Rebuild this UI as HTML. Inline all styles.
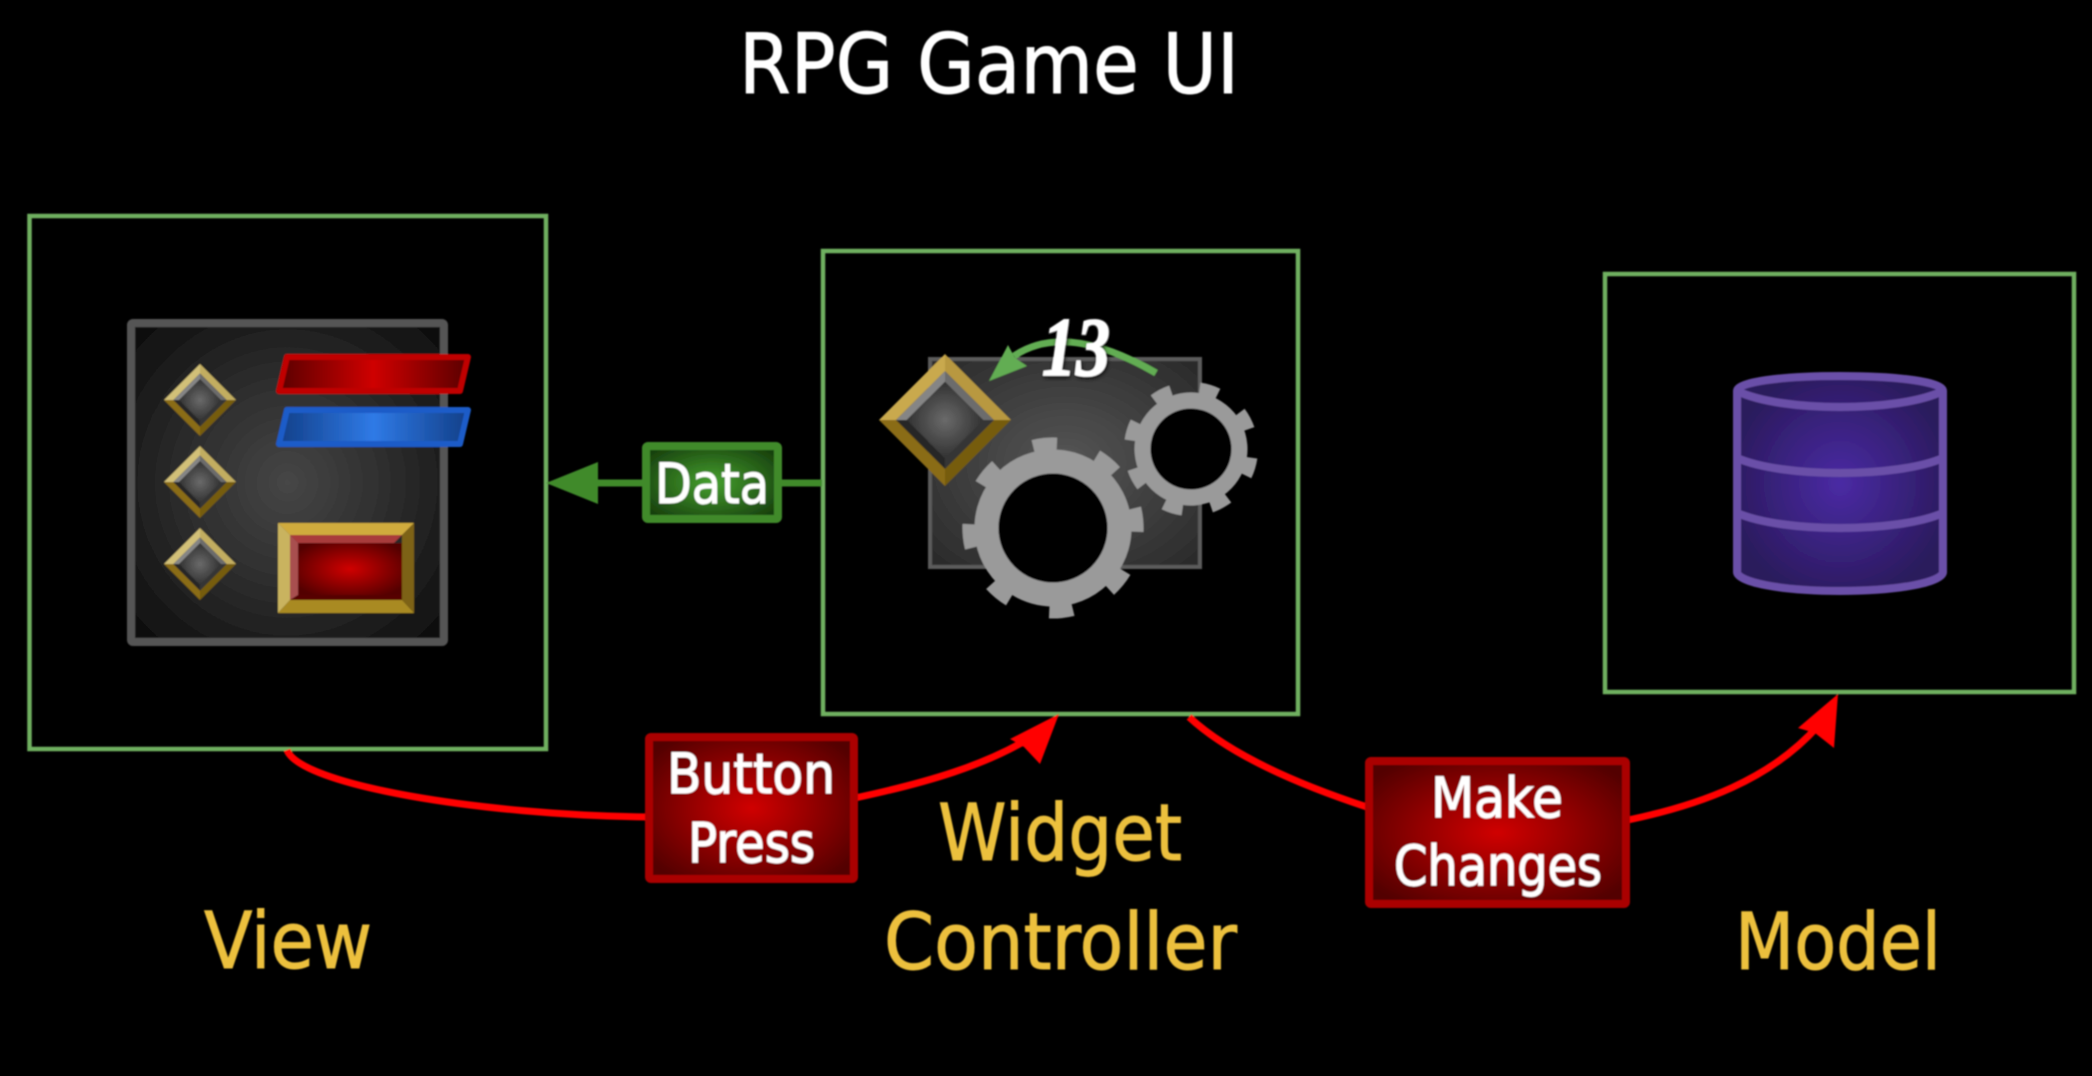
<!DOCTYPE html>
<html>
<head>
<meta charset="utf-8">
<title>RPG Game UI</title>
<style>
html,body{margin:0;padding:0;background:#000;width:2092px;height:1076px;overflow:hidden}
svg{display:block}
text{font-family:"DejaVu Sans","Liberation Sans",sans-serif}
</style>
</head>
<body>
<svg width="2092" height="1076" viewBox="0 0 2092 1076" xmlns="http://www.w3.org/2000/svg">
<defs>
<filter id="soft" x="-2%" y="-2%" width="104%" height="104%"><feGaussianBlur stdDeviation="0.7"/></filter>
<filter id="shadow" x="-30%" y="-30%" width="160%" height="160%"><feDropShadow dx="1" dy="2" stdDeviation="2" flood-color="#000" flood-opacity=".8"/></filter>
<radialGradient id="panelA" cx=".5" cy=".5" r=".72"><stop offset="0" stop-color="#464646"/><stop offset=".5" stop-color="#2a2a2a"/><stop offset="1" stop-color="#0a0a0a"/></radialGradient>
<radialGradient id="panelB" cx=".5" cy=".5" r=".68"><stop offset="0" stop-color="#565656"/><stop offset="1" stop-color="#2a2a2a"/></radialGradient>
<radialGradient id="red" cx=".5" cy=".5" r=".62"><stop offset="0" stop-color="#d00000"/><stop offset="1" stop-color="#520000"/></radialGradient>
<linearGradient id="redBar" x1="0" x2="1" y1="0" y2="0"><stop offset="0" stop-color="#5a0000"/><stop offset=".5" stop-color="#cf0000"/><stop offset="1" stop-color="#5a0000"/></linearGradient>
<linearGradient id="blueBar" x1="0" x2="1" y1="0" y2="0"><stop offset="0" stop-color="#123f88"/><stop offset=".5" stop-color="#2f7ae6"/><stop offset="1" stop-color="#123f88"/></linearGradient>
<radialGradient id="green" cx=".5" cy=".5" r=".62"><stop offset="0" stop-color="#45a02e"/><stop offset="1" stop-color="#173f0d"/></radialGradient>
<radialGradient id="purple" cx=".5" cy=".5" r=".55"><stop offset="0" stop-color="#4a2aa4"/><stop offset="1" stop-color="#2a1a5c"/></radialGradient>
<radialGradient id="gem" cx=".5" cy=".5" r=".55"><stop offset="0" stop-color="#6a6a6a"/><stop offset="1" stop-color="#2c2c2c"/></radialGradient>
<g id="dia">
<polygon points="0,-100 100,0 74,0 0,-74" fill="#c2ad60"/>
<polygon points="0,-100 -100,0 -74,0 0,-74" fill="#d2c078"/>
<polygon points="-100,0 0,100 0,74 -74,0" fill="#8a6c12"/>
<polygon points="100,0 0,100 0,74 74,0" fill="#765c10"/>
<polygon points="0,-74 74,0 58,0 0,-58" fill="#6c6c6c"/>
<polygon points="0,-74 -74,0 -58,0 0,-58" fill="#858585"/>
<polygon points="-74,0 0,74 0,58 -58,0" fill="#262626"/>
<polygon points="74,0 0,74 0,58 58,0" fill="#343434"/>
<polygon points="0,-58 58,0 0,58 -58,0" fill="url(#gem)"/>
</g>
<g id="diaB">
<polygon points="0,-100 100,0 74,0 0,-74" fill="#b8983f"/>
<polygon points="0,-100 -100,0 -74,0 0,-74" fill="#c9a94e"/>
<polygon points="-100,0 0,100 0,74 -74,0" fill="#8a6c12"/>
<polygon points="100,0 0,100 0,74 74,0" fill="#765c10"/>
<polygon points="0,-74 74,0 58,0 0,-58" fill="#6c6c6c"/>
<polygon points="0,-74 -74,0 -58,0 0,-58" fill="#858585"/>
<polygon points="-74,0 0,74 0,58 -58,0" fill="#262626"/>
<polygon points="74,0 0,74 0,58 58,0" fill="#343434"/>
<polygon points="0,-58 58,0 0,58 -58,0" fill="url(#gem)"/>
</g>
</defs>

<g filter="url(#soft)">
<!-- green frames -->
<g fill="none" stroke="#70b060" stroke-width="4.5">
<rect x="29.5" y="216" width="516.5" height="533"/>
<rect x="823" y="251" width="475" height="463"/>
<rect x="1605" y="274" width="469" height="418"/>
</g>

<!-- View panel -->
<rect x="131" y="323" width="313" height="319" rx="2" fill="url(#panelA)" stroke="#555" stroke-width="8"/>
<use href="#dia" transform="translate(200,400) scale(.36)"/>
<use href="#dia" transform="translate(200,482) scale(.36)"/>
<use href="#dia" transform="translate(200,564) scale(.36)"/>
<polygon points="287,357 468,357 460,391 279,391" fill="url(#redBar)" stroke="#c00000" stroke-width="6" stroke-linejoin="round"/>
<polygon points="287,410 468,410 460,444 279,444" fill="url(#blueBar)" stroke="#1a5cc8" stroke-width="6" stroke-linejoin="round"/>
<polygon points="278,523 414,523 402,535 290,535" fill="#d0ab3e"/>
<polygon points="278,523 290,535 290,600 278,613" fill="#c9b35e"/>
<polygon points="414,523 402,535 402,600 414,613" fill="#7d6212"/>
<polygon points="278,613 290,600 402,600 414,613" fill="#a98a22"/>
<rect x="298" y="543" width="104" height="52" fill="url(#red)"/>
<polygon points="290,535 402,535 394,543 298,543" fill="#a93a3a"/>
<polygon points="290,535 298,543 298,595 290,600" fill="#a85050"/>
<polygon points="290,600 298,595 402,595 402,600" fill="#560000"/>

<!-- Widget panel -->
<rect x="930" y="359" width="270" height="208" fill="url(#panelB)" stroke="#5c5c5c" stroke-width="4"/>
<use href="#diaB" transform="translate(945,420) scale(.66)"/>
<g transform="translate(1053,528) rotate(-5.6)">
<circle r="84" fill="none" stroke="#9a9a9a" stroke-width="13" stroke-dasharray="24 41.97" stroke-dashoffset="12"/>
<circle r="66.5" fill="#000" stroke="#9a9a9a" stroke-width="24"/>
</g>
<g transform="translate(1191,449) rotate(17)">
<circle r="61" fill="none" stroke="#9a9a9a" stroke-width="12" stroke-dasharray="19 28.9" stroke-dashoffset="9.5"/>
<circle r="48.5" fill="#000" stroke="#9a9a9a" stroke-width="16"/>
</g>
<path d="M1156 373 Q1066 321 1014 356" fill="none" stroke="#62ad52" stroke-width="7"/>
<polygon points="989,381 1008,345 1015,358 1027,366" fill="#62ad52"/>
<text x="1042" y="375" font-size="84" font-weight="bold" font-style="italic" fill="#fff" stroke="#fff" stroke-width="1.5" textLength="68" lengthAdjust="spacingAndGlyphs" filter="url(#shadow)" style="font-family:'Liberation Serif',serif">13</text>

<!-- Database -->
<path d="M1737 391 V572 C1737 582 1780 591 1840 591 C1900 591 1943 582 1943 572 V391 C1943 382 1900 376 1840 376 C1780 376 1737 382 1737 391 Z" fill="url(#purple)" stroke="#6a50a8" stroke-width="8"/>
<g fill="none" stroke="#6a50a8" stroke-width="8">
<path d="M1737 391 C1760 402 1800 407 1840 407 C1880 407 1920 402 1943 391"/>
<path d="M1737 458 C1760 468 1800 473 1840 473 C1880 473 1920 468 1943 458"/>
<path d="M1737 513 C1760 523 1800 528 1840 528 C1880 528 1920 523 1943 513"/>
</g>

<!-- Data connector -->
<line x1="590" y1="483" x2="822" y2="483" stroke="#3f8a2a" stroke-width="7"/>
<polygon points="546,483 598,462 598,504" fill="#3f8a2a"/>
<rect x="646" y="446" width="132" height="73" rx="2" fill="url(#green)" stroke="#3f8a2a" stroke-width="8"/>

<!-- Red connectors -->
<g fill="none" stroke="#f00" stroke-width="7">
<path d="M287 750 C300 785 480 815 648 817"/>
<path d="M855 798 C930 782 985 765 1030 738"/>
<path d="M1189 717 C1230 755 1300 785 1367 807"/>
<path d="M1628 820 C1700 805 1770 780 1818 726"/>
</g>
<polygon points="1059,714 1010,739 1024,747 1040,764" fill="#f00"/>
<polygon points="1838,694 1798,728 1815,733 1834,748" fill="#f00"/>
<rect x="649" y="737" width="205" height="142" rx="2" fill="url(#red)" stroke="#aa0000" stroke-width="8"/>
<rect x="1369" y="761" width="257" height="143" rx="2" fill="url(#red)" stroke="#aa0000" stroke-width="8"/>

<!-- Labels -->
<g fill="#fff" stroke="#fff" stroke-width="1">
<text x="739" y="93" font-size="83" textLength="500" lengthAdjust="spacingAndGlyphs">RPG Game UI</text>
<text x="655" y="503" font-size="55" textLength="114" lengthAdjust="spacingAndGlyphs">Data</text>
<text x="667" y="793" font-size="55" textLength="168" lengthAdjust="spacingAndGlyphs">Button</text>
<text x="688" y="862" font-size="55" textLength="127" lengthAdjust="spacingAndGlyphs">Press</text>
<text x="1431" y="817" font-size="55" textLength="132" lengthAdjust="spacingAndGlyphs">Make</text>
<text x="1394" y="885" font-size="55" textLength="208" lengthAdjust="spacingAndGlyphs">Changes</text>
</g>
<g fill="#ecc03c" stroke="#ecc03c" stroke-width="1">
<text x="204" y="968" font-size="78" textLength="168" lengthAdjust="spacingAndGlyphs">View</text>
<text x="938" y="860" font-size="78" textLength="244" lengthAdjust="spacingAndGlyphs">Widget</text>
<text x="884" y="969" font-size="78" textLength="353" lengthAdjust="spacingAndGlyphs">Controller</text>
<text x="1735" y="969" font-size="78" textLength="206" lengthAdjust="spacingAndGlyphs">Model</text>
</g>
</g>
</svg>
</body>
</html>
